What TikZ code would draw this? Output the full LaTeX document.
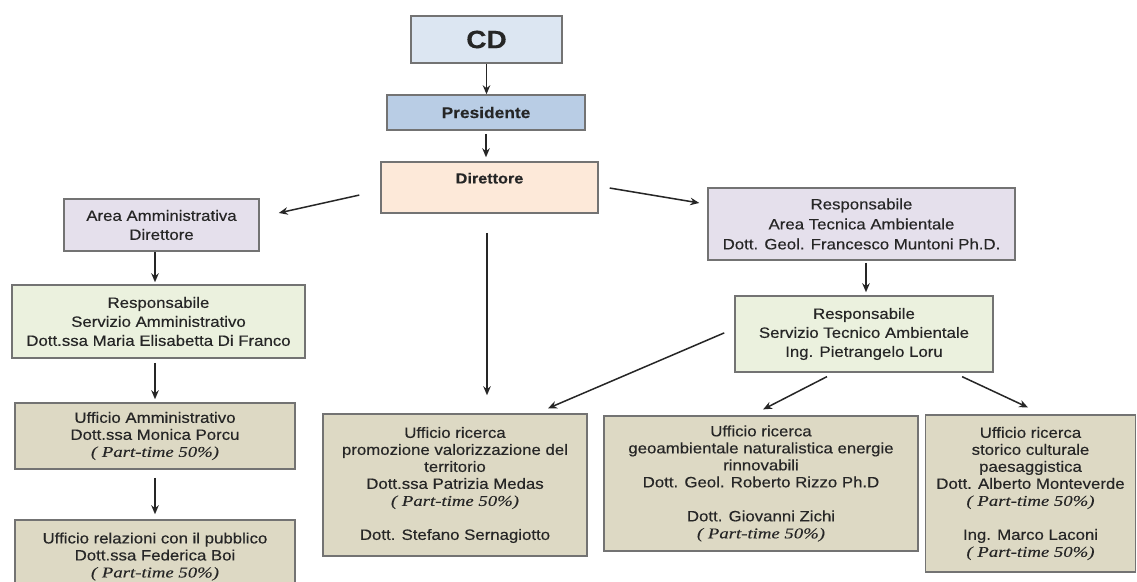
\documentclass[tikz,border=0pt]{standalone}
\usepackage{fontspec}
\setmainfont[FakeStretch=1.12,FakeBold=0.35]{Liberation Sans}
\newfontfamily\ptfont[FakeStretch=1.25,FakeBold=0.2]{Liberation Serif}
\usetikzlibrary{arrows.meta}
\definecolor{cdfill}{HTML}{DCE6F2}
\definecolor{presfill}{HTML}{B9CDE5}
\definecolor{dirfill}{HTML}{FDE9D9}
\definecolor{areafill}{HTML}{E5E0EC}
\definecolor{respfill}{HTML}{EBF1DE}
\definecolor{uffill}{HTML}{DDD9C4}
\definecolor{boxline}{HTML}{737373}
\definecolor{txt}{HTML}{262626}
\newcommand\parttime{{\ptfont\itshape\color{txt} ( Part-time 50\%)}}
\tikzset{
  box/.style={draw=boxline, line width=1.5pt, align=center, inner sep=0pt, text=txt,
    font=\fontsize{15}{19}\selectfont},
  uff/.style={box, fill=uffill, font=\fontsize{15}{17}\selectfont},
  arr/.style={draw=txt, line width=1.5pt, -{Stealth[length=9pt,width=7.5pt]}},
}
\begin{document}
\begin{tikzpicture}[x=1pt,y=-1pt]
\useasboundingbox (0,0) rectangle (1137,581);
\clip (0,0) rectangle (1137,581);
\fill[white] (0,0) rectangle (1137,581);

\node[box, fill=cdfill, minimum width=151pt, minimum height=47pt, font=\bfseries\fontsize{25}{28}\selectfont] (cd) at (486.5,39.5) {CD};
\node[box, fill=presfill, minimum width=198pt, minimum height=35pt, font=\bfseries\fontsize{15.5}{18}\selectfont] (pres) at (486,112.5) {Presidente};
\node[box, fill=dirfill, minimum width=217pt, minimum height=51pt] (dir) at (489.5,187.5) {};
\node[text=txt, font=\bfseries\fontsize{14.5}{17}\selectfont, inner sep=0pt] (dirt) at ([yshift=-17pt]dir.north) {Direttore};

\node[box, fill=areafill, minimum width=195pt, minimum height=52pt] (aam) at (161.5,225) {Area Amministrativa\\Direttore};
\node[box, fill=respfill, minimum width=293pt, minimum height=73pt] (ramm) at (158.5,321.5) {Responsabile\\Servizio Amministrativo\\Dott.ssa Maria Elisabetta Di Franco};
\node[uff, minimum width=280pt, minimum height=66pt] (uffamm) at (155,436) {Ufficio Amministrativo\\Dott.ssa Monica Porcu\\\parttime};
\node[uff, minimum width=280pt, minimum height=80pt, text depth=10pt] (urp) at (155,560) {Ufficio relazioni con il pubblico\\Dott.ssa Federica Boi\\\parttime};

\node[box, fill=areafill, minimum width=307pt, minimum height=72pt, font=\fontsize{15}{20}\selectfont] (rtec) at (861.5,224) {Responsabile\\Area Tecnica Ambientale\\Dott. Geol. Francesco Muntoni Ph.D.};
\node[box, fill=respfill, minimum width=258pt, minimum height=76pt] (rst) at (864,334) {Responsabile\\Servizio Tecnico Ambientale\\Ing. Pietrangelo Loru};

\node[uff, minimum width=264pt, minimum height=142pt] (promo) at (455,485) {Ufficio ricerca\\promozione valorizzazione del\\territorio\\Dott.ssa Patrizia Medas\\\parttime\\[17pt]Dott. Stefano Sernagiotto};
\node[uff, minimum width=314pt, minimum height=135pt] (geo) at (761,483.5) {Ufficio ricerca\\geoambientale naturalistica energie\\rinnovabili\\Dott. Geol. Roberto Rizzo Ph.D\\[17pt]Dott. Giovanni Zichi\\\parttime};
\node[uff, minimum width=210pt, minimum height=157pt] (sto) at (1030.5,493.5) {Ufficio ricerca\\storico culturale\\paesaggistica\\Dott. Alberto Monteverde\\\parttime\\[17pt]Ing. Marco Laconi\\\parttime};

\draw[arr] (cd.south) -- (cd.south |- pres.north);
\draw[arr, shorten <=3pt, shorten >=4pt] (pres.south) -- (pres.south |- dir.north);
\draw[arr, shorten <=21.5pt, shorten >=19.5pt] ([yshift=-2.9pt]dir.west) -- ([yshift=7.8pt]aam.east);
\draw[arr, shorten <=11.1pt, shorten >=8.1pt] ([yshift=1.3pt]dir.east) -- ([yshift=19.7pt]rtec.west);
\draw[arr, shorten <=19pt, shorten >=18pt] ([xshift=-2.5pt]dir.south) -- ([xshift=-2.5pt]dir.south |- promo.north);
\draw[arr, shorten >=2pt] ([xshift=-6.5pt]aam.south) -- ([xshift=-6.5pt]aam.south |- ramm.north);
\draw[arr, shorten <=4pt, shorten >=3pt] ([xshift=-3.5pt]ramm.south) -- ([xshift=-3.5pt]ramm.south |- uffamm.north);
\draw[arr, shorten <=8pt, shorten >=5pt] (uffamm.south) -- (uffamm.south |- urp.north);
\draw[arr, shorten <=2pt, shorten >=3pt] ([xshift=4.5pt]rtec.south) -- ([xshift=4.5pt]rtec.south |- rst.north);
\draw[arr, shorten <=10.9pt, shorten >=12.5pt] ([yshift=5.4pt]rst.west) -- ([xshift=81.5pt]promo.north);
\draw[arr, shorten <=8.5pt, shorten >=12.8pt] ([xshift=-29.5pt]rst.south) -- ([xshift=-9.3pt]geo.north);
\draw[arr, shorten <=9.2pt, shorten >=16pt] ([xshift=89.75pt]rst.south) -- ([xshift=12pt]sto.north);
\end{tikzpicture}
\end{document}
